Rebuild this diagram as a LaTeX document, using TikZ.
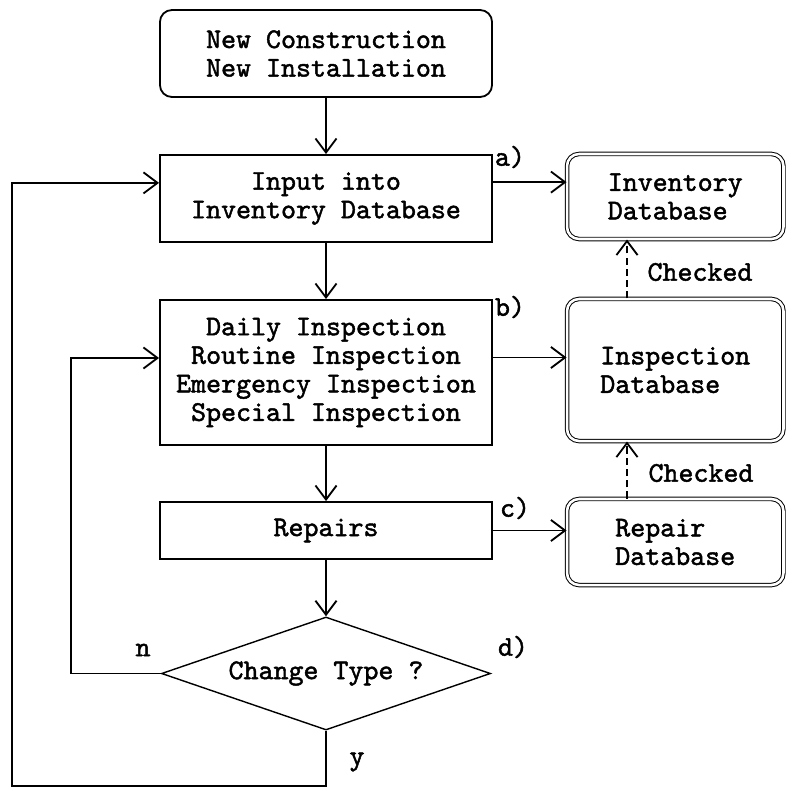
\documentclass[tikz,border=0pt]{standalone}
\usepackage{fontspec}
\newfontfamily\flowfont{lmmono10-regular.otf}[FakeBold=1.6]
\usetikzlibrary{arrows.meta,shapes.geometric}

\begin{document}
\begin{tikzpicture}[x=0.025cm,y=-0.025cm,
    >={Straight Barb[length=10pt,width=15pt]},
    font=\flowfont\fontsize{20.3pt}{20.3pt}\selectfont,
    line width=1.3pt,
    proc/.style={draw,rectangle,minimum width=8.3cm,align=center,inner sep=0pt},
    startbox/.style={proc,rounded corners=0.3cm},
    dbbox/.style={draw,rounded corners=0.3cm,double,double distance=1.8pt,line width=0.7pt,
      minimum width=5.41cm,align=left,inner sep=0pt},
    decision/.style={draw,diamond,aspect=2.91,line width=1pt,minimum width=8.225cm,minimum height=2.825cm,inner sep=0pt},
    tag/.style={inner sep=0pt}]
  \useasboundingbox (0,0) rectangle (787,789);
  % main flow
  \node[startbox,minimum height=2.175cm] (start) at (326,53.5) {New Construction\\New Installation};
  \node[proc,minimum height=2.175cm] (input) at (326,198.5) {Input into\\Inventory Database};
  \node[proc,minimum height=3.625cm] (insp) at (326,372.5)
    {Daily Inspection\\Routine Inspection\\Emergency Inspection\\Special Inspection};
  \node[proc,minimum height=1.425cm] (repairs) at (326,530.5) {Repairs};
  \node[decision] (dec) at (326,673.5) {Change Type ?};
  % databases
  \node[dbbox,minimum height=2.125cm] (invdb) at (675.25,196.5) {Inventory\\Database};
  \node[dbbox,minimum height=3.55cm] (inspdb) at (675.25,370) {Inspection\\Database};
  \node[dbbox,minimum height=2.15cm] (repdb) at (675.25,542) {Repair\\Database};
  % step tags
  \node[tag] (ta) at (510,157) {a)};
  \node[tag] (tb) at (510,307) {b)};
  \node[tag] (tc) at (515,508) {c)};
  \node[tag] (td) at (513,647) {d)};
  \node[tag] (tn) at (143,650) {n};
  \node[tag] (ty) at (357,762) {y};
  \node[tag] (chk1) at (700,272) {Checked};
  \node[tag] (chk2) at (701,473) {Checked};
  % helper points
  \coordinate (ina) at ([yshift=0.41cm]input.east);
  \coordinate (inb) at ([yshift=0.375cm]insp.east);
  \coordinate (outa) at ([yshift=0.39cm]input.west);
  \coordinate (outb) at ([yshift=0.3625cm]insp.west);
  \coordinate (chk) at (627,0);
  \coordinate (ol) at (12,786);
  \coordinate (il) at (71,673.5);
  % connectors
  \draw[->] (start) -- (input);
  \draw[->] (input) -- (insp);
  \draw[->] (insp) -- (repairs);
  \draw[->] (repairs) -- (dec);
  \draw[->] (ina) -- (ina -| invdb.west);
  \draw[->] (inb) -- (inb -| inspdb.west);
  \draw[->] (repairs.east) -- (repairs.east -| repdb.west);
  % checked (dashed)
  \draw[->,dash pattern=on 5pt off 3pt] (inspdb.north -| chk) -- (invdb.south -| chk);
  \draw[->,dash pattern=on 5pt off 3pt] (repdb.north -| chk) -- (inspdb.south -| chk);
  % loops back
  \draw[->] (dec.west) -- (il) |- (outb);
  \draw[->] (dec.south) |- (ol) |- (outa);
\end{tikzpicture}
\end{document}
